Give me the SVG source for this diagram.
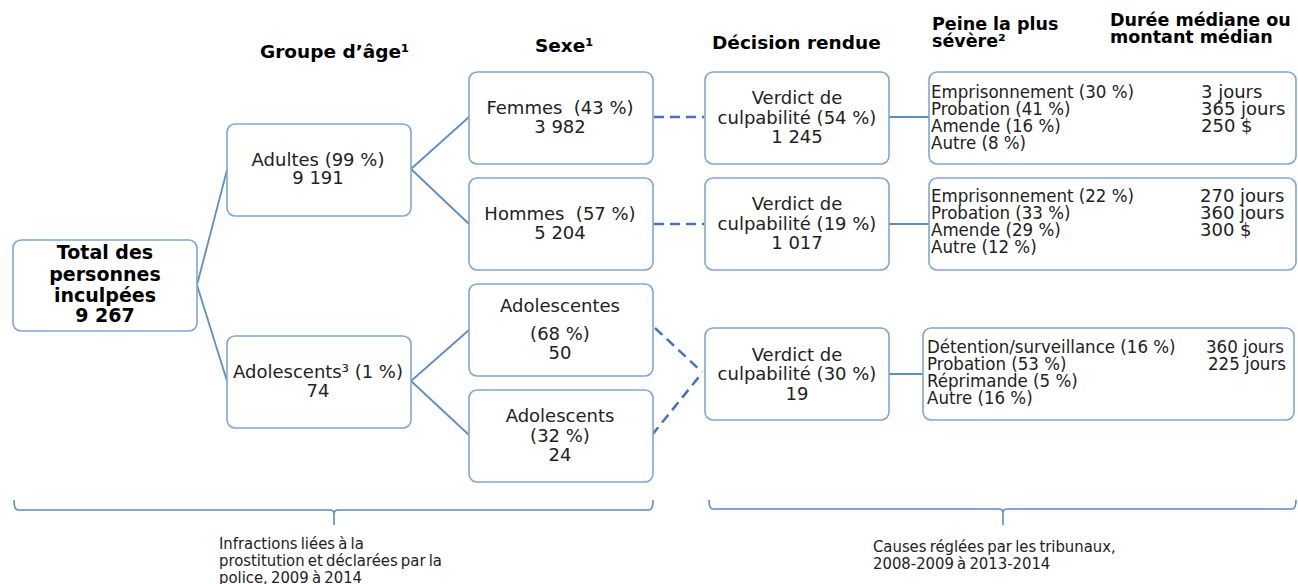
<svg xmlns="http://www.w3.org/2000/svg" width="1298" height="584" viewBox="0 0 1298 584">
<style>
.box{fill:#fff;stroke:#7FA6D4;stroke-width:1.6}
.t{font-family:"DejaVu Sans",Verdana,sans-serif;font-size:18px;fill:#222;text-anchor:middle}
.tb{font-family:"DejaVu Sans",Verdana,sans-serif;font-weight:bold;font-size:19px;fill:#000;text-anchor:middle}
.h{font-family:"DejaVu Sans",Verdana,sans-serif;font-weight:bold;font-size:18.5px;fill:#000}
.h2{font-family:"DejaVu Sans",Verdana,sans-serif;font-weight:bold;font-size:17.5px;fill:#000}
.p{font-family:"DejaVu Sans Condensed","DejaVu Sans",sans-serif;font-stretch:condensed;font-size:18.5px;fill:#222}
.v{font-family:"DejaVu Sans",Verdana,sans-serif;font-size:18px;fill:#222}
.f{font-family:"DejaVu Sans Condensed","DejaVu Sans",sans-serif;font-stretch:condensed;font-size:16.5px;fill:#222;word-spacing:-1.5px}
.c{fill:none;stroke:#5E8DC6;stroke-width:1.8}
.d{fill:none;stroke:#4472C4;stroke-width:2.5;stroke-dasharray:10 6}
.br{fill:none;stroke:#5B8BCB;stroke-width:1.6}
</style>

<g id="headings">
<text class="h" x="260" y="58">Groupe d’âge¹</text>
<text class="h" x="535" y="52">Sexe¹</text>
<text class="h" x="712" y="49">Décision rendue</text>
<text class="h2" x="932" y="30">Peine la plus</text>
<text class="h2" x="932" y="46.5">sévère²</text>
<text class="h2" x="1110" y="26">Durée médiane ou</text>
<text class="h2" x="1110" y="42.5">montant médian</text>
</g>

<g id="connectors">
<line class="c" x1="197" y1="285" x2="227" y2="170"/>
<line class="c" x1="197" y1="285" x2="227" y2="381"/>
<line class="c" x1="411" y1="169" x2="469" y2="117"/>
<line class="c" x1="411" y1="169" x2="469" y2="224"/>
<line class="c" x1="411" y1="381" x2="469" y2="330"/>
<line class="c" x1="411" y1="381" x2="469" y2="435"/>
<line class="d" x1="654" y1="117" x2="704" y2="117"/>
<line class="d" x1="654" y1="224" x2="704" y2="224"/>
<line class="d" x1="655" y1="328" x2="702" y2="372"/>
<line class="d" x1="652" y1="435" x2="702" y2="373"/>
<line class="c" x1="889" y1="117" x2="929" y2="117"/>
<line class="c" x1="889" y1="224" x2="929" y2="224"/>
<line class="c" x1="889" y1="374" x2="923" y2="374"/>
</g>

<g id="total">
<rect class="box" x="13" y="240" width="184" height="91" rx="8"/>
<text class="tb" x="105" y="259">Total des</text>
<text class="tb" x="105" y="281">personnes</text>
<text class="tb" x="105" y="302">inculpées</text>
<text class="tb" x="105" y="322">9 267</text>
</g>

<g id="adultes">
<rect class="box" x="227" y="124" width="184" height="92" rx="8"/>
<text class="t" x="318" y="166">Adultes (99 %)</text>
<text class="t" x="318" y="184">9 191</text>
</g>

<g id="adolescents-age">
<rect class="box" x="227" y="336" width="184" height="92" rx="8"/>
<text class="t" x="318" y="378">Adolescents³ (1 %)</text>
<text class="t" x="318" y="397">74</text>
</g>

<g id="femmes">
<rect class="box" x="469" y="72" width="184" height="92" rx="8"/>
<text class="t" x="560" y="114" xml:space="preserve">Femmes  (43 %)</text>
<text class="t" x="560" y="133">3 982</text>
</g>

<g id="hommes">
<rect class="box" x="469" y="178" width="184" height="92" rx="8"/>
<text class="t" x="560" y="220" xml:space="preserve">Hommes  (57 %)</text>
<text class="t" x="560" y="239">5 204</text>
</g>

<g id="adolescentes">
<rect class="box" x="469" y="284" width="184" height="92" rx="8"/>
<text class="t" x="560" y="312">Adolescentes</text>
<text class="t" x="560" y="340">(68 %)</text>
<text class="t" x="560" y="359">50</text>
</g>

<g id="adolescents-sexe">
<rect class="box" x="469" y="390" width="184" height="92" rx="8"/>
<text class="t" x="560" y="422">Adolescents</text>
<text class="t" x="560" y="442">(32 %)</text>
<text class="t" x="560" y="461">24</text>
</g>

<g id="verdict1">
<rect class="box" x="705" y="72" width="184" height="92" rx="8"/>
<text class="t" x="797" y="104">Verdict de</text>
<text class="t" x="797" y="124">culpabilité (54 %)</text>
<text class="t" x="797" y="143">1 245</text>
</g>

<g id="verdict2">
<rect class="box" x="705" y="178" width="184" height="92" rx="8"/>
<text class="t" x="797" y="210">Verdict de</text>
<text class="t" x="797" y="230">culpabilité (19 %)</text>
<text class="t" x="797" y="249">1 017</text>
</g>

<g id="verdict3">
<rect class="box" x="705" y="328" width="184" height="92" rx="8"/>
<text class="t" x="797" y="361">Verdict de</text>
<text class="t" x="797" y="380">culpabilité (30 %)</text>
<text class="t" x="797" y="400">19</text>
</g>

<g id="peine1">
<rect class="box" x="929" y="72" width="367" height="92" rx="8"/>
<text class="p" x="931" y="98">Emprisonnement (30 %)</text>
<text class="p" x="931" y="115">Probation (41 %)</text>
<text class="p" x="931" y="132">Amende (16 %)</text>
<text class="p" x="931" y="149">Autre (8 %)</text>
<text class="v" x="1201" y="98">3 jours</text>
<text class="v" x="1201" y="115">365 jours</text>
<text class="v" x="1201" y="132">250 $</text>
</g>

<g id="peine2">
<rect class="box" x="929" y="178" width="367" height="92" rx="8"/>
<text class="p" x="931" y="202">Emprisonnement (22 %)</text>
<text class="p" x="931" y="219">Probation (33 %)</text>
<text class="p" x="931" y="236">Amende (29 %)</text>
<text class="p" x="931" y="253">Autre (12 %)</text>
<text class="v" x="1200" y="202">270 jours</text>
<text class="v" x="1200" y="219">360 jours</text>
<text class="v" x="1200" y="236">300 $</text>
</g>

<g id="peine3">
<rect class="box" x="923" y="328" width="371" height="92" rx="8"/>
<text class="p" x="927" y="353">Détention/surveillance (16 %)</text>
<text class="p" x="927" y="370">Probation (53 %)</text>
<text class="p" x="927" y="387">Réprimande (5 %)</text>
<text class="p" x="927" y="404">Autre (16 %)</text>
<text class="p" x="1206" y="353">360 jours</text>
<text class="p" x="1208" y="370">225 jours</text>
</g>

<g id="brace-police">
<path class="br" d="M14,500 Q14,510 18,510 L330,510 Q334,510 334,514 L334,525 M334,514 Q334,510 338,510 L649,510 Q653,510 653,500"/>
<text class="f" x="219" y="549">Infractions liées à la</text>
<text class="f" x="219" y="566">prostitution et déclarées par la</text>
<text class="f" x="219" y="583">police, 2009 à 2014</text>
</g>

<g id="brace-tribunaux">
<path class="br" d="M709,500 Q709,509 713,509 L999,509 Q1003,509 1003,513 L1003,525 M1003,513 Q1003,509 1007,509 L1292,509 Q1296,509 1296,500"/>
<text class="f" x="873" y="552">Causes réglées par les tribunaux,</text>
<text class="f" x="873" y="569">2008-2009 à 2013-2014</text>
</g>
</svg>
